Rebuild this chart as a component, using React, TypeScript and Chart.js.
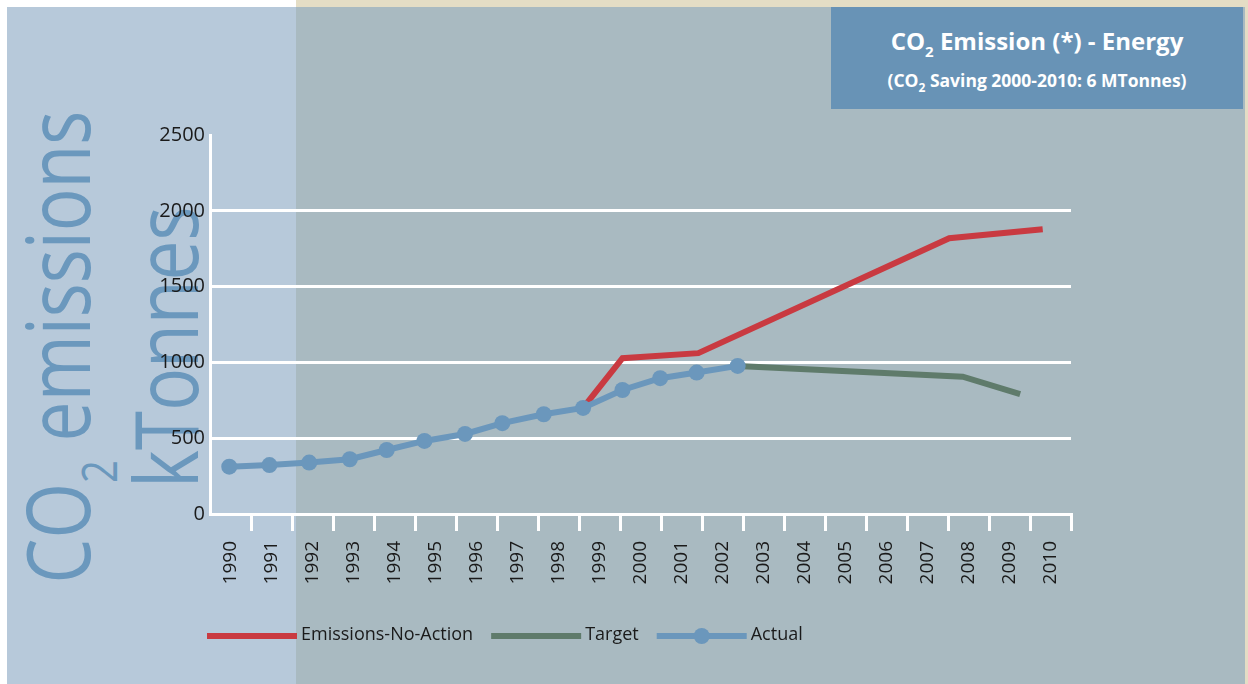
import React, { useEffect, useRef } from 'react';
import { Chart, registerables } from 'chart.js';

Chart.register(...registerables);

// ---- data ----
const years = ['1990', '1991', '1992', '1993', '1994', '1995', '1996', '1997', '1998', '1999', '2000',
  '2001', '2002', '2003', '2004', '2005', '2006', '2007', '2008', '2009', '2010'];
const yTicks = [0, 500, 1000, 1500, 2000, 2500];

// x positions in years as placed in the picture, y in kTonnes
const actualX = [1989.97, 1990.95, 1991.92, 1992.91, 1993.81, 1994.73, 1995.72, 1996.63, 1997.64, 1998.6, 1999.56, 2000.48, 2001.37, 2002.37];
const actualY = [312, 323, 339, 361, 422, 482, 528, 599, 658, 700, 818, 896, 933, 977];
const noActionX = [1998.6, 1999.56, 2001.41, 2007.53, 2009.81];
const noActionY = [700, 1028, 1061, 1819, 1878];
const targetX = [2002.37, 2007.86, 2009.26];
const targetY = [977, 906, 790];

const seriesNames = ['Emissions-No-Action', 'Target', 'Actual'];
const seriesColors = ['#c93a41', '#5f7b6b', '#6b97bc'];

const FONT = '"Open Sans", "Noto Sans", sans-serif';

const zip = (xs: number[], ys: number[]) => xs.map((x, i) => ({ x, y: ys[i] }));

const legendPlugin = {
  id: 'lineLegend',
  afterDraw(chart: any) {
    const ctx = chart.ctx;
    const area = chart.chartArea;
    let x = area.left - 3;
    const y = area.bottom + 121;
    ctx.save();
    ctx.font = `18px ${FONT}`;
    ctx.textBaseline = 'middle';
    ctx.textAlign = 'left';
    chart.data.datasets.forEach((ds: any) => {
      ctx.strokeStyle = ds.borderColor;
      ctx.lineWidth = 6;
      ctx.lineCap = 'butt';
      ctx.beginPath();
      ctx.moveTo(x, y + 1);
      ctx.lineTo(x + 90, y + 1);
      ctx.stroke();
      if (ds.pointRadius > 0) {
        ctx.fillStyle = ds.borderColor;
        ctx.beginPath();
        ctx.arc(x + 45, y + 1, 8, 0, Math.PI * 2);
        ctx.fill();
      }
      x += 94;
      ctx.fillStyle = '#1a1a1a';
      ctx.fillText(ds.label, x, y);
      x += ctx.measureText(ds.label).width + 18;
    });
    ctx.restore();
  },
};

export default function App() {
  const ref = useRef<HTMLCanvasElement>(null);

  useEffect(() => {
    const chart = new Chart(ref.current as HTMLCanvasElement, {
      type: 'line',
      data: {
        labels: years,
        datasets: [
          {
            label: seriesNames[0],
            data: zip(noActionX, noActionY),
            xAxisID: 'xd',
            yAxisID: 'y',
            borderColor: seriesColors[0],
            backgroundColor: seriesColors[0],
            borderWidth: 6,
            pointRadius: 0,
            tension: 0,
            order: 1,
          },
          {
            label: seriesNames[1],
            data: zip(targetX, targetY),
            xAxisID: 'xd',
            yAxisID: 'y',
            borderColor: seriesColors[1],
            backgroundColor: seriesColors[1],
            borderWidth: 6,
            pointRadius: 0,
            tension: 0,
            order: 2,
          },
          {
            label: seriesNames[2],
            data: zip(actualX, actualY),
            xAxisID: 'xd',
            yAxisID: 'y',
            borderColor: seriesColors[2],
            backgroundColor: seriesColors[2],
            borderWidth: 6,
            pointRadius: 8,
            pointBorderWidth: 0,
            pointBackgroundColor: seriesColors[2],
            tension: 0,
            order: 0,
          },
        ],
      },
      options: {
        responsive: false,
        animation: false,
        events: [],
        layout: { padding: { left: 0, right: 177, top: 135, bottom: 0 } },
        plugins: {
          legend: { display: false },
          tooltip: { enabled: false },
          title: { display: false },
        },
        scales: {
          x: {
            type: 'category',
            position: 'bottom',
            offset: true,
            afterFit: (s: any) => { s.height = 170; },
            grid: {
              offset: true,
              drawOnChartArea: false,
              drawTicks: true,
              tickLength: 17,
              lineWidth: 3,
              color: (c: any) => (c.index === 0 ? 'rgba(0,0,0,0)' : '#ffffff'),
            },
            border: { display: true, color: '#ffffff', width: 3 },
            ticks: {
              autoSkip: false,
              minRotation: 90,
              maxRotation: 90,
              padding: 10,
              color: '#1a1a1a',
              font: { family: FONT, size: 19 },
            },
          },
          xd: {
            type: 'linear',
            display: false,
            min: 1989.5,
            max: 2010.5,
          },
          y: {
            type: 'linear',
            position: 'left',
            min: 0,
            max: 2500,
            afterFit: (s: any) => { s.width = 210; },
            afterBuildTicks: (s: any) => { s.ticks = yTicks.map((v) => ({ value: v })); },
            grid: {
              drawTicks: false,
              lineWidth: 3,
              color: (c: any) => (c.tick && c.tick.value === 2500 ? 'rgba(0,0,0,0)' : '#ffffff'),
            },
            border: { display: true, color: '#ffffff', width: 3 },
            ticks: {
              padding: 5,
              color: '#1a1a1a',
              font: { family: FONT, size: 20 },
              callback: (v: any) => String(v),
            },
          },
        },
      },
      plugins: [legendPlugin],
    } as any);
    return () => chart.destroy();
  }, []);

  return (
    <div style={{ position: 'absolute', left: 0, top: 0, width: 1248, height: 684, background: '#ffffff', overflow: 'hidden', fontFamily: FONT }}>
      <div style={{ position: 'absolute', left: 296, top: 0, width: 952, height: 7, background: '#e4ddc5' }} />
      <div style={{ position: 'absolute', left: 1245, top: 0, width: 3, height: 684, background: '#e4ddc5' }} />
      <div style={{ position: 'absolute', left: 7, top: 7, width: 289, height: 677, background: '#b7c9da' }} />
      <div style={{ position: 'absolute', left: 296, top: 7, width: 949, height: 677, background: '#a9bac1' }} />
      <div style={{ position: 'absolute', left: 831, top: 7, width: 412, height: 102, background: '#6893b6', color: '#ffffff', fontWeight: 700, textAlign: 'center' }}>
        <div style={{ position: 'absolute', left: 0, right: 0, top: 18, lineHeight: '32px', fontSize: 24, whiteSpace: 'nowrap' }}>
          CO<span style={{ fontSize: 15, position: 'relative', top: 7 }}>2</span> Emission (*) - Energy
        </div>
        <div style={{ position: 'absolute', left: 0, right: 0, top: 60, lineHeight: '26px', fontSize: 17.5, whiteSpace: 'nowrap' }}>
          (CO<span style={{ fontSize: 12, position: 'relative', top: 5 }}>2</span> Saving 2000-2010: 6 MTonnes)
        </div>
      </div>
      <div
        style={{
          position: 'absolute',
          left: 102.75 - 300,
          top: 347 - 93,
          width: 600,
          height: 186,
          transform: 'rotate(-90deg) scaleX(0.82)',
          fontSize: 87,
          lineHeight: '93px',
          fontWeight: 400,
          color: '#6b98bd',
          textAlign: 'center',
          whiteSpace: 'nowrap',
        }}
      >
        <div>
          CO<span style={{ fontSize: 49, position: 'relative', top: 27 }}>2</span> emissions
        </div>
        <div>kTonnes</div>
      </div>
      <canvas ref={ref} width={1248} height={684} style={{ position: 'absolute', left: 0, top: 0, width: 1248, height: 684 }} />
    </div>
  );
}
